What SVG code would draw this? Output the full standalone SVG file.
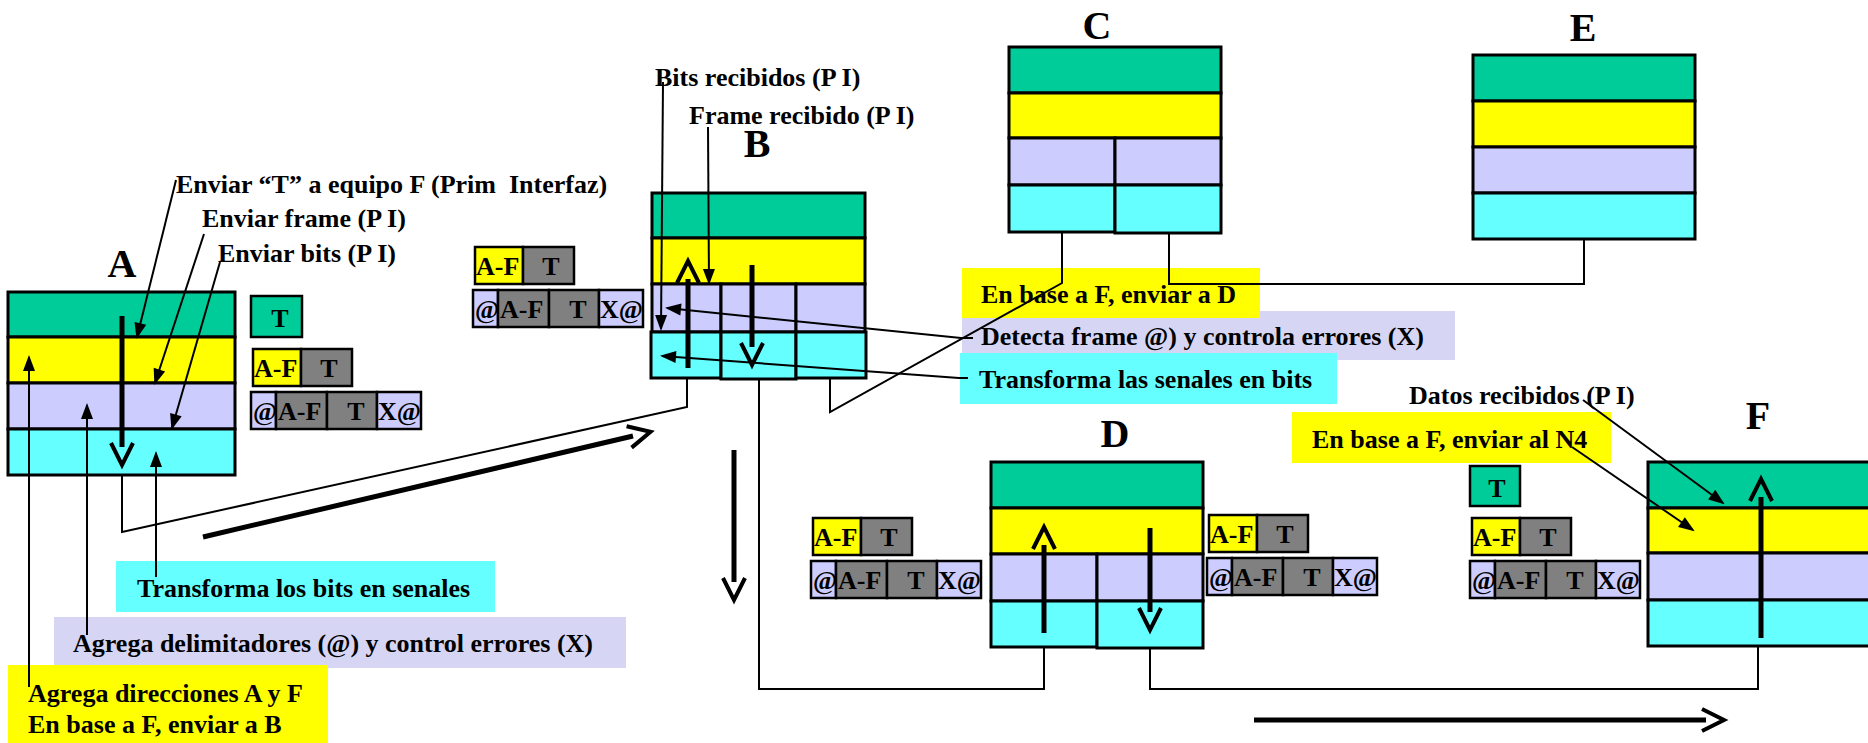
<svg xmlns="http://www.w3.org/2000/svg" width="1868" height="743" viewBox="0 0 1868 743">
<style>
.n{stroke:#000;stroke-width:3}
.p{stroke:#000;stroke-width:2.5}
.g{fill:#00CC99}.y{fill:#FFFF00}.l{fill:#CCCCFF}.c{fill:#66FFFF}.gr{fill:#808080}
.lb{fill:#D6D6F4}
text{font-family:"Liberation Serif","Times New Roman",serif;font-weight:bold;font-size:26px;fill:#000}
.big{font-size:40px;text-anchor:middle}
.m{text-anchor:middle}
.thin{stroke:#000;stroke-width:2;fill:none}
.thick{stroke:#000;stroke-width:5;fill:none}
</style>
<defs>
<marker id="ah" markerUnits="userSpaceOnUse" markerWidth="18" markerHeight="14" refX="14" refY="6" orient="auto" overflow="visible">
<path d="M0,0 L16,6 L0,12 Z" fill="#000"/>
</marker>
<marker id="chev" markerUnits="userSpaceOnUse" markerWidth="30" markerHeight="30" refX="6" refY="13" orient="auto" overflow="visible">
<path d="M2,2 L24,13 L2,24" fill="none" stroke="#000" stroke-width="4"/>
</marker>
</defs>

<!-- Label boxes -->
<g id="labels">
<rect class="c" x="116" y="561" width="379" height="51"/>
<text x="137" y="597">Transforma los bits en senales</text>
<rect class="lb" x="54" y="617" width="572" height="51"/>
<text x="73" y="652">Agrega delimitadores (@) y control errores (X)</text>
<rect class="y" x="8" y="665" width="320" height="80"/>
<text x="28" y="702">Agrega direcciones A y F</text>
<text x="28" y="733">En base a F, enviar a B</text>

<rect class="lb" x="962" y="311" width="493" height="49"/>
<rect class="y" x="962" y="268" width="298" height="50"/>
<text x="981" y="303">En base a F, enviar a D</text>
<text x="981" y="345">Detecta frame @) y controla errores (X)</text>
<rect class="c" x="960" y="353" width="377" height="51"/>
<text x="979" y="388">Transforma las senales en bits</text>

<rect class="y" x="1292" y="412" width="319" height="51"/>
<text x="1312" y="448">En base a F, enviar al N4</text>
<text x="1409" y="404">Datos recibidos (P I)</text>

<text x="176" y="193" style="white-space:pre">Enviar “T” a equipo F (Prim  Interfaz)</text>
<text x="202" y="227">Enviar frame (P I)</text>
<text x="218" y="262">Enviar bits (P I)</text>
<text x="655" y="86">Bits recibidos (P I)</text>
<text x="689" y="124">Frame recibido (P I)</text>
</g>

<!-- Nodes -->
<g id="node-A">
<rect class="n g" x="8" y="292" width="227" height="45"/>
<rect class="n y" x="8" y="337" width="227" height="46"/>
<rect class="n l" x="8" y="383" width="227" height="46"/>
<rect class="n c" x="8" y="429" width="227" height="46"/>
<text class="big" x="122" y="277">A</text>
</g>

<g id="node-B">
<rect class="n g" x="652" y="193" width="213" height="45"/>
<rect class="n y" x="652" y="238" width="213" height="46"/>
<rect class="n l" x="652" y="284" width="69" height="48"/>
<rect class="n l" x="721" y="284" width="75" height="48"/>
<rect class="n l" x="796" y="284" width="69" height="48"/>
<rect class="n c" x="651" y="332" width="70" height="46"/>
<rect class="n c" x="721" y="332" width="75" height="47"/>
<rect class="n c" x="796" y="332" width="70" height="46"/>
<text class="big" x="757" y="157">B</text>
</g>

<g id="node-C">
<rect class="n g" x="1009" y="47" width="212" height="46"/>
<rect class="n y" x="1009" y="93" width="212" height="45"/>
<rect class="n l" x="1009" y="138" width="106" height="47"/>
<rect class="n l" x="1115" y="138" width="106" height="47"/>
<rect class="n c" x="1009" y="185" width="106" height="47"/>
<rect class="n c" x="1115" y="185" width="106" height="48"/>
<text class="big" x="1097" y="39">C</text>
</g>

<g id="node-E">
<rect class="n g" x="1473" y="55" width="222" height="46"/>
<rect class="n y" x="1473" y="101" width="222" height="46"/>
<rect class="n l" x="1473" y="147" width="222" height="46"/>
<rect class="n c" x="1473" y="193" width="222" height="46"/>
<text class="big" x="1583" y="41">E</text>
</g>

<g id="node-D">
<rect class="n g" x="991" y="462" width="212" height="46"/>
<rect class="n y" x="991" y="508" width="212" height="46"/>
<rect class="n l" x="991" y="554" width="106" height="47"/>
<rect class="n l" x="1097" y="554" width="106" height="47"/>
<rect class="n c" x="991" y="601" width="106" height="46"/>
<rect class="n c" x="1097" y="601" width="106" height="47"/>
<text class="big" x="1115" y="447">D</text>
</g>

<g id="node-F">
<rect class="n g" x="1648" y="462" width="240" height="46"/>
<rect class="n y" x="1648" y="508" width="240" height="45"/>
<rect class="n l" x="1648" y="553" width="240" height="47"/>
<rect class="n c" x="1648" y="600" width="240" height="46"/>
<text class="big" x="1758" y="429">F</text>
</g>

<!-- PDUs -->
<g id="pdu-A-T">
<rect class="p g" x="251" y="296" width="51" height="41"/>
<text class="m" x="280" y="327">T</text>
</g>
<g id="pdu-A" transform="translate(253,349)">
<rect class="p y" x="0" y="0" width="48" height="37"/>
<rect class="p gr" x="48" y="0" width="51" height="37"/>
<text x="1" y="28">A-F</text><text class="m" x="76" y="28">T</text>
<rect class="p l" x="-2" y="43" width="25" height="37"/>
<rect class="p gr" x="23" y="43" width="51" height="37"/>
<rect class="p gr" x="74" y="43" width="50" height="37"/>
<rect class="p l" x="124" y="43" width="44" height="37"/>
<text x="0" y="71">@</text><text x="25" y="71">A-F</text><text class="m" x="103" y="71">T</text><text x="125" y="71">X@</text>
</g>
<g id="pdu-B" transform="translate(475,247)">
<rect class="p y" x="0" y="0" width="48" height="37"/>
<rect class="p gr" x="48" y="0" width="51" height="37"/>
<text x="1" y="28">A-F</text><text class="m" x="76" y="28">T</text>
<rect class="p l" x="-2" y="43" width="25" height="37"/>
<rect class="p gr" x="23" y="43" width="51" height="37"/>
<rect class="p gr" x="74" y="43" width="50" height="37"/>
<rect class="p l" x="124" y="43" width="44" height="37"/>
<text x="0" y="71">@</text><text x="25" y="71">A-F</text><text class="m" x="103" y="71">T</text><text x="125" y="71">X@</text>
</g>
<g id="pdu-D-left" transform="translate(813,518)">
<rect class="p y" x="0" y="0" width="48" height="37"/>
<rect class="p gr" x="48" y="0" width="51" height="37"/>
<text x="1" y="28">A-F</text><text class="m" x="76" y="28">T</text>
<rect class="p l" x="-2" y="43" width="25" height="37"/>
<rect class="p gr" x="23" y="43" width="51" height="37"/>
<rect class="p gr" x="74" y="43" width="50" height="37"/>
<rect class="p l" x="124" y="43" width="44" height="37"/>
<text x="0" y="71">@</text><text x="25" y="71">A-F</text><text class="m" x="103" y="71">T</text><text x="125" y="71">X@</text>
</g>
<g id="pdu-D-right" transform="translate(1209,515)">
<rect class="p y" x="0" y="0" width="48" height="37"/>
<rect class="p gr" x="48" y="0" width="51" height="37"/>
<text x="1" y="28">A-F</text><text class="m" x="76" y="28">T</text>
<rect class="p l" x="-2" y="43" width="25" height="37"/>
<rect class="p gr" x="23" y="43" width="51" height="37"/>
<rect class="p gr" x="74" y="43" width="50" height="37"/>
<rect class="p l" x="124" y="43" width="44" height="37"/>
<text x="0" y="71">@</text><text x="25" y="71">A-F</text><text class="m" x="103" y="71">T</text><text x="125" y="71">X@</text>
</g>
<g id="pdu-F-T">
<rect class="p g" x="1470" y="466" width="50" height="40"/>
<text class="m" x="1497" y="497">T</text>
</g>
<g id="pdu-F" transform="translate(1472,518)">
<rect class="p y" x="0" y="0" width="48" height="37"/>
<rect class="p gr" x="48" y="0" width="51" height="37"/>
<text x="1" y="28">A-F</text><text class="m" x="76" y="28">T</text>
<rect class="p l" x="-2" y="43" width="25" height="37"/>
<rect class="p gr" x="23" y="43" width="51" height="37"/>
<rect class="p gr" x="74" y="43" width="50" height="37"/>
<rect class="p l" x="124" y="43" width="44" height="37"/>
<text x="0" y="71">@</text><text x="25" y="71">A-F</text><text class="m" x="103" y="71">T</text><text x="125" y="71">X@</text>
</g>

<!-- Connectors -->
<g id="connectors">
<line class="thin" x1="176" y1="180" x2="137" y2="337" marker-end="url(#ah)"/>
<line class="thin" x1="204" y1="234" x2="155" y2="383" marker-end="url(#ah)"/>
<line class="thin" x1="220" y1="262" x2="172" y2="428" marker-end="url(#ah)"/>
<line class="thin" x1="29" y1="687" x2="29" y2="357" marker-end="url(#ah)"/>
<line class="thin" x1="87" y1="635" x2="87" y2="405" marker-end="url(#ah)"/>
<line class="thin" x1="156" y1="577" x2="156" y2="453" marker-end="url(#ah)"/>
<line class="thick" x1="122" y1="316" x2="122" y2="447" marker-end="url(#chev)"/>
<polyline class="thin" points="122,475 122,532 687,407 687,378"/>
<line class="thick" x1="203" y1="537" x2="633" y2="436" marker-end="url(#chev)"/>
<line class="thick" x1="688" y1="368" x2="688" y2="279" marker-end="url(#chev)"/>
<line class="thick" x1="752" y1="265" x2="752" y2="347" marker-end="url(#chev)"/>
<line class="thin" x1="663" y1="82" x2="661" y2="329" marker-end="url(#ah)"/>
<line class="thin" x1="708" y1="127" x2="709" y2="283" marker-end="url(#ah)"/>
<polyline class="thin" points="973,338 961,338 667,308" marker-end="url(#ah)"/>
<polyline class="thin" points="968,378 959,378 662,356" marker-end="url(#ah)"/>
<polyline class="thin" points="1062,232 1062,283 830,412 830,378"/>
<polyline class="thin" points="1169,232 1169,284 1584,284 1584,239"/>
<polyline class="thin" points="759,378 759,689 1044,689 1044,647"/>
<polyline class="thin" points="1150,647 1150,689 1758,689 1758,646"/>
<line class="thick" x1="734" y1="450" x2="734" y2="582" marker-end="url(#chev)"/>
<line class="thick" x1="1044" y1="633" x2="1044" y2="545" marker-end="url(#chev)"/>
<line class="thick" x1="1150" y1="528" x2="1150" y2="612" marker-end="url(#chev)"/>
<line class="thick" x1="1761" y1="638" x2="1761" y2="497" marker-end="url(#chev)"/>
<line class="thick" x1="1254" y1="720" x2="1706" y2="720" marker-end="url(#chev)"/>
<line class="thin" x1="1583" y1="400" x2="1723" y2="503" marker-end="url(#ah)"/>
<line class="thin" x1="1572" y1="447" x2="1693" y2="530" marker-end="url(#ah)"/>
</g>
</svg>
